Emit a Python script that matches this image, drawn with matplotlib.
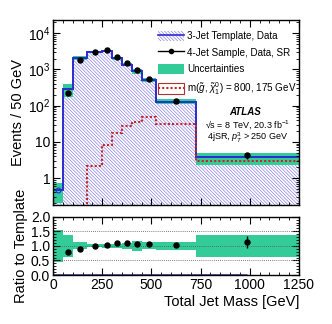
import numpy as np
import matplotlib
matplotlib.use("Agg")
import matplotlib.pyplot as plt
from matplotlib.patches import Patch
from matplotlib.lines import Line2D
from matplotlib.ticker import MultipleLocator, LogLocator, FixedLocator, FuncFormatter, NullFormatter

plt.rcParams['font.family'] = ['Liberation Sans', 'DejaVu Sans']
plt.rcParams['mathtext.fontset'] = 'custom'
plt.rcParams['mathtext.rm'] = 'Liberation Sans'
plt.rcParams['mathtext.it'] = 'Liberation Sans:italic'
plt.rcParams['hatch.linewidth'] = 0.5

# bin edges [GeV], events normalised per 50 GeV
edges = [0, 50, 100, 175, 250, 300, 350, 400, 450, 525, 725, 1250]
template = [0.46, 285, 2040, 3100, 3250, 2040, 1360, 880, 516, 130, 3.7]
template_unc = [0.55, 0.38, 0.12, 0.05, 0.06, 0.08, 0.10, 0.16, 0.12, 0.14, 0.37]  # relative
data = [np.nan, 222, 1820, 3040, 3350, 2220, 1480, 940, 547, 132, 4.2]
data_err = [np.nan, 5, 10, 12, 15, 12, 10, 8, 5, 1.5, 0.78]
signal = [0, 0, 0, 2.2, 8.4, 17.8, 26.6, 35, 48, 31.7, 3.0]

edges = np.array(edges, float)
template = np.array(template)
template_unc = np.array(template_unc)
data = np.array(data)
data_err = np.array(data_err)
centers = 0.5 * (edges[1:] + edges[:-1])
widths = np.diff(edges)

hatch_col = '#8a82e6'
line_col = '#2b2bd0'
teal = '#33cc99'
sig_col = '#cc2222'
HATCH = '\\' * 10

fig = plt.figure(figsize=(3.32, 3.24), dpi=100)
ax = fig.add_axes([0.1596, 0.3673, 0.741, 0.5725])
rax = fig.add_axes([0.1596, 0.1512, 0.741, 0.18])

# main panel
ax.stairs(template, edges, fill=True, facecolor='none', edgecolor=hatch_col,
          hatch=HATCH, linewidth=0, baseline=1e-3)
ax.bar(edges[:-1], 2 * template * template_unc, width=widths,
       bottom=template * (1 - template_unc), align='edge', color=teal, linewidth=0)
ax.stairs(template, edges, color=line_col, linewidth=1.4, baseline=None)
ax.plot(centers[0], template[0], marker='o', ms=3.5, mfc='none', mec=line_col, mew=0.8)
ax.stairs(signal, edges, color=sig_col, linewidth=1.5, linestyle=(0, (1, 1)), baseline=None)
ax.errorbar(centers, data, yerr=data_err, fmt='o', color='black', ms=3.6,
            elinewidth=1, capsize=0)

ax.set_yscale('log')
ax.set_xlim(0, 1250)
ax.set_ylim(0.18, 2.4e4)

def log_fmt(v, pos):
    if abs(v - 1) < 1e-9:
        return '1'
    if abs(v - 10) < 1e-9:
        return '10'
    return r'$10^{%d}$' % int(round(np.log10(v)))

ax.yaxis.set_major_locator(FixedLocator([1, 10, 100, 1e3, 1e4]))
ax.yaxis.set_major_formatter(FuncFormatter(log_fmt))
ax.yaxis.set_minor_locator(LogLocator(subs=np.arange(2, 10), numticks=20))
ax.yaxis.set_minor_formatter(NullFormatter())
ax.xaxis.set_major_locator(MultipleLocator(250))
ax.xaxis.set_minor_locator(MultipleLocator(50))
ax.tick_params(axis='x', labelbottom=False)
ax.set_ylabel('Events / 50 GeV', fontsize=10.5, labelpad=2)

for a in (ax, rax):
    a.tick_params(which='both', direction='in', top=True, right=True, labelsize=10, pad=2)
    a.tick_params(which='major', length=5, width=0.8)
    a.tick_params(which='minor', length=2.5, width=0.6)
    for s in a.spines.values():
        s.set_linewidth(1)

ax.text(0.78, 0.50, 'ATLAS', transform=ax.transAxes, ha='center', va='center',
        fontsize=7, fontweight='bold', fontstyle='italic')
ax.text(0.79, 0.43, '\u221as = 8 TeV, 20.3 fb$^{-1}$', transform=ax.transAxes,
        ha='center', va='center', fontsize=6.5)
ax.text(0.79, 0.362, '4jSR, $p_{T}^{3}$ > 250 GeV', transform=ax.transAxes,
        ha='center', va='center', fontsize=6.5)

h_tmpl = (Patch(facecolor='none', edgecolor=hatch_col, hatch=HATCH, linewidth=0),
          Line2D([], [], color=line_col, lw=1.2))
h_data = Line2D([], [], color='black', marker='o', ms=3, lw=1)
h_unc = Patch(facecolor=teal, edgecolor='none')
h_sig = (Patch(facecolor='white', edgecolor='#b03030', linewidth=0.8),
         Line2D([], [], color=sig_col, lw=1.5, linestyle=(0, (1, 1))))
ax.legend([h_tmpl, h_data, h_unc, h_sig],
          ['3-Jet Template, Data', '4-Jet Sample, Data, SR', 'Uncertainties',
           r'm($\tilde{g}$, $\tilde{\chi}_{1}^{0}$) = 800, 175 GeV'],
          loc='upper left', bbox_to_anchor=(0.427, 0.94), frameon=False,
          fontsize=7.1, handlelength=2.6, handleheight=1.25, handletextpad=0.35,
          labelspacing=0.6, borderpad=0, borderaxespad=0)

# ratio panel
ratio = data / template
ratio_err = data_err / template
rax.bar(edges[:-1], 2 * template_unc, width=widths, bottom=1 - template_unc,
        align='edge', color=teal, linewidth=0)
for yv in (0.5, 1.0, 1.5):
    rax.axhline(yv, color='#555555', lw=0.6, linestyle=(0, (1, 1.5)))
rax.hlines(0, 0, centers[-1], color='#2b2b90', lw=1.8)
rax.errorbar(centers, ratio, yerr=ratio_err, fmt='o', color='black', ms=3.6,
             elinewidth=1, capsize=0)
rax.set_xlim(0, 1250)
rax.set_ylim(0, 2)
rax.yaxis.set_major_locator(FixedLocator([0, 0.5, 1.0, 1.5, 2.0]))
rax.yaxis.set_major_formatter(FuncFormatter(lambda v, p: '%.1f' % v))
rax.yaxis.set_minor_locator(MultipleLocator(0.1))
rax.xaxis.set_major_locator(MultipleLocator(250))
rax.xaxis.set_minor_locator(MultipleLocator(50))
rax.set_xlabel('Total Jet Mass [GeV]', fontsize=10.5, loc='right', labelpad=2)
rax.set_ylabel('Ratio to Template', fontsize=10.5, labelpad=2)

fig.align_ylabels([ax, rax])
fig.savefig('out.png', dpi=100)
